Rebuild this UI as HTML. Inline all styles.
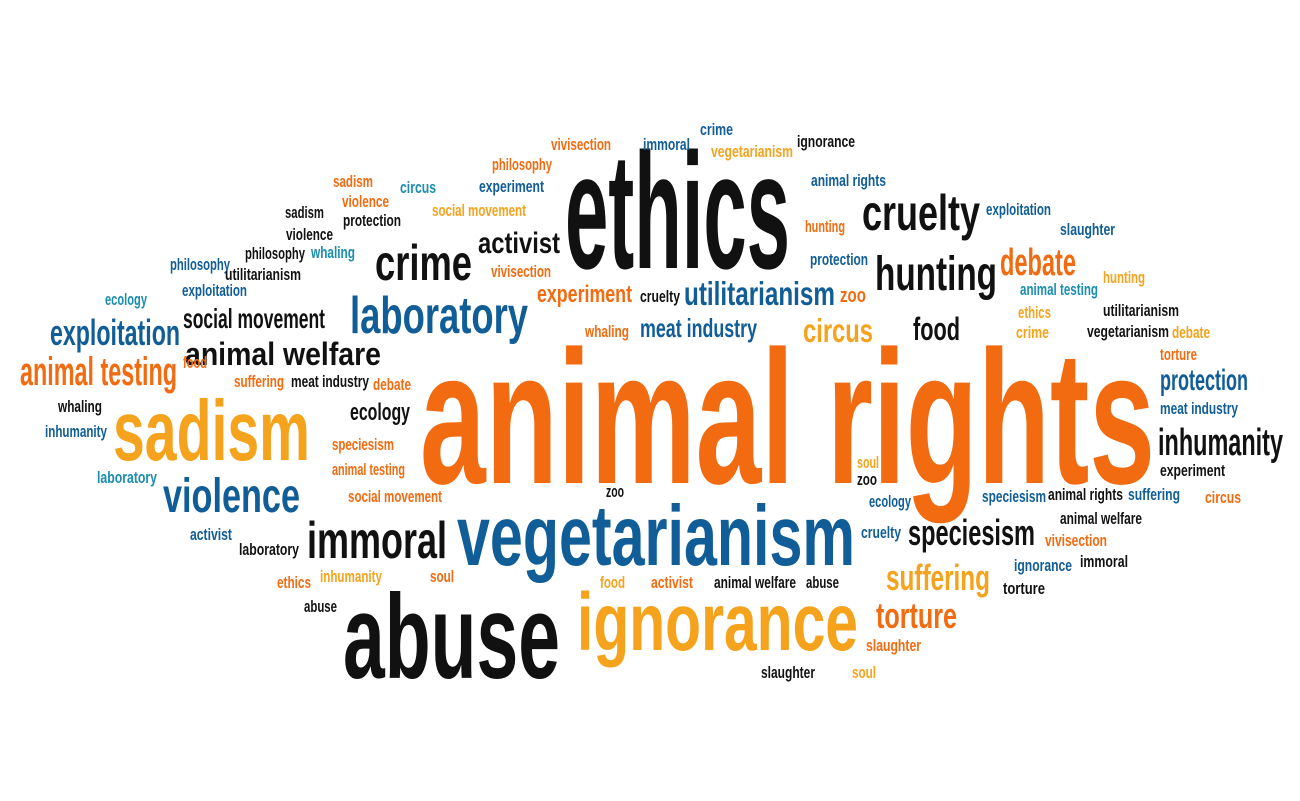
<!DOCTYPE html>
<html><head><meta charset="utf-8">
<style>
html,body{margin:0;padding:0;background:#fff;}
svg{display:block;}
text{font-family:"Liberation Sans Narrow","Liberation Sans",sans-serif;font-weight:bold;}
</style></head>
<body>
<svg id="cloud" width="1300" height="801" viewBox="0 0 1300 801" xmlns="http://www.w3.org/2000/svg">
<rect width="1300" height="801" fill="#fff"/>
</svg>
<script>
const C={k:'#111111',o:'#f26b10',a:'#f5a21c',b:'#105d97',t:'#1a8db0'};
// word, x, baseline, font-size, width, colour
const words=[
["animal rights",420,483,190,735,'o'],
["ethics",565,268,165,225,'k'],
["abuse",343,678,120,217,'k'],
["ignorance",577,650,82,281,'a'],
["vegetarianism",457,565,85,398,'b'],
["sadism",113,460,85,197,'a'],
["violence",163,512,48,137,'b'],
["immoral",307,558,52,140,'k'],
["laboratory",350,333,52,178,'b'],
["crime",375,280,50,97,'k'],
["cruelty",862,230,50,118,'k'],
["hunting",875,290,48,122,'k'],
["debate",1000,275,38,76,'o'],
["exploitation",50,345,36,130,'b'],
["animal testing",20,385,40,157,'o'],
["animal welfare",185,365,32,196,'k'],
["social movement",183,328,28,142,'k'],
["activist",478,253,30,82,'k'],
["experiment",537,302,24,95,'o'],
["utilitarianism",684,305,33,151,'b'],
["circus",803,342,33,70,'a'],
["food",913,340,32,47,'k'],
["meat industry",640,337,26,117,'b'],
["cruelty",640,302,17,40,'k'],
["zoo",840,302,20,26,'o'],
["protection",1160,390,30,88,'b'],
["inhumanity",1158,455,38,125,'k'],
["speciesism",908,545,36,127,'k'],
["suffering",886,590,36,104,'a'],
["torture",876,628,36,81,'o'],
["ecology",350,420,24,60,'k'],
["vivisection",551,150,17,60,'o'],
["immoral",643,150,17,47,'b'],
["crime",700,135,17,33,'b'],
["ignorance",797,147,17,58,'k'],
["vegetarianism",711,157,17,82,'a'],
["philosophy",492,170,17,60,'o'],
["sadism",333,187,17,40,'o'],
["circus",400,193,17,36,'t'],
["experiment",479,192,17,65,'b'],
["animal rights",811,186,17,75,'b'],
["violence",342,207,17,47,'o'],
["sadism",285,218,17,39,'k'],
["protection",343,226,17,58,'k'],
["social movement",432,216,17,94,'a'],
["exploitation",986,215,17,65,'b'],
["slaughter",1060,235,17,55,'b'],
["hunting",805,232,17,40,'o'],
["violence",286,240,17,47,'k'],
["philosophy",245,259,17,60,'k'],
["whaling",311,258,17,44,'t'],
["protection",810,265,17,58,'b'],
["philosophy",170,270,17,60,'b'],
["utilitarianism",225,280,17,76,'k'],
["vivisection",491,277,17,60,'o'],
["hunting",1103,283,17,42,'a'],
["exploitation",182,296,17,65,'b'],
["ecology",105,305,17,42,'t'],
["animal testing",1020,295,17,78,'t'],
["utilitarianism",1103,316,17,76,'k'],
["ethics",1018,318,17,33,'a'],
["crime",1016,338,17,33,'a'],
["vegetarianism",1087,337,17,82,'k'],
["debate",1172,338,17,38,'a'],
["whaling",585,337,17,44,'o'],
["torture",1160,360,17,37,'o'],
["food",183,368,17,24,'o'],
["suffering",234,387,17,50,'o'],
["meat industry",291,387,17,78,'k'],
["debate",373,390,17,38,'o'],
["meat industry",1160,414,17,78,'b'],
["whaling",58,412,17,44,'k'],
["inhumanity",45,437,17,62,'b'],
["speciesism",332,450,17,62,'o'],
["animal testing",332,475,17,73,'o'],
["laboratory",97,483,17,60,'t'],
["social movement",348,502,17,94,'o'],
["soul",857,468,17,22,'a'],
["zoo",857,485,17,20,'k'],
["experiment",1160,476,17,65,'k'],
["ecology",869,507,17,42,'b'],
["speciesism",982,502,17,64,'b'],
["animal rights",1048,500,17,75,'k'],
["suffering",1128,500,17,52,'b'],
["circus",1205,503,17,36,'o'],
["zoo",606,497,17,18,'k'],
["activist",190,540,17,42,'b'],
["laboratory",239,555,17,60,'k'],
["cruelty",861,538,17,40,'b'],
["animal welfare",1060,524,17,82,'k'],
["vivisection",1045,546,17,62,'o'],
["ignorance",1014,571,17,58,'b'],
["immoral",1080,567,17,48,'k'],
["torture",1003,594,17,42,'k'],
["ethics",277,588,17,34,'o'],
["inhumanity",320,582,17,62,'a'],
["soul",430,582,17,24,'o'],
["food",600,588,17,25,'a'],
["activist",651,588,17,42,'o'],
["animal welfare",714,588,17,82,'k'],
["abuse",806,588,17,33,'k'],
["abuse",304,612,17,33,'k'],
["slaughter",866,651,17,55,'o'],
["slaughter",761,678,17,54,'k'],
["soul",852,678,17,24,'a']
];
const svg=document.getElementById('cloud');
const NS='http://www.w3.org/2000/svg';
words.forEach(w=>{
  const t=document.createElementNS(NS,'text');
  t.setAttribute('x',w[1]);
  t.setAttribute('y',w[2]);
  t.setAttribute('font-size',w[3]);
  t.setAttribute('textLength',w[4]);
  t.setAttribute('lengthAdjust','spacingAndGlyphs');
  t.setAttribute('fill',C[w[5]]);
  if(w[3]<20)t.setAttribute('font-weight','normal');
  t.textContent=w[0];
  
  
  svg.appendChild(t);
});
</script>
</body></html>
